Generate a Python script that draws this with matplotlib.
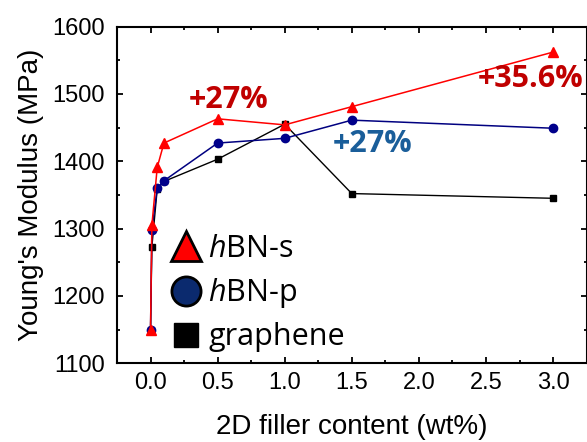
import matplotlib
matplotlib.use("Agg")
import matplotlib.pyplot as plt
from matplotlib.lines import Line2D
from matplotlib.ticker import MultipleLocator

# filler content (wt%)
content = [0.0, 0.01, 0.05, 0.1, 0.5, 1.0, 1.5, 3.0]

# Young's modulus (MPa)
hbn_s = [1150, 1305, 1391, 1427, 1463, 1454, 1481, 1562]
hbn_p = [1150, 1298, 1360, 1371, 1427, 1434, 1461, 1449]
graphene = [1150, 1273, 1359, 1370, 1403, 1455, 1352, 1345]

labels = ["$\\it{h}$BN-s", "$\\it{h}$BN-p", "graphene"]

plt.rcParams["mathtext.fontset"] = "custom"
plt.rcParams["mathtext.it"] = "Open Sans:italic"
plt.rcParams["mathtext.rm"] = "Open Sans"

fig = plt.figure(figsize=(5.87, 4.42), dpi=100)
ax = fig.add_axes([0.1993, 0.178, 0.800, 0.762])

ax.plot(content, graphene, color="black", lw=1.0, marker="s", ms=5)
ax.plot(content, hbn_p, color="#000080", lw=1.1, marker="o", ms=6,
        mfc="#00008b", mec="#00008b")
ax.plot(content, hbn_s, color="#ff0000", lw=1.1, marker="^", ms=7)

ax.set_xlim(-0.25, 3.25)
ax.set_ylim(1100, 1600)
ax.xaxis.set_major_locator(MultipleLocator(0.5))
ax.xaxis.set_minor_locator(MultipleLocator(0.25))
ax.yaxis.set_major_locator(MultipleLocator(100))
ax.yaxis.set_minor_locator(MultipleLocator(50))

for side in ax.spines.values():
    side.set_linewidth(1.5)
ax.tick_params(which="both", direction="in", top=True, right=True, width=1.3)
ax.tick_params(which="major", length=4.5)
ax.tick_params(which="minor", length=2.5)
ax.tick_params(axis="x", labelsize=17, pad=6)
ax.tick_params(axis="y", labelsize=17, pad=8.5)
for lab in ax.get_xticklabels() + ax.get_yticklabels():
    lab.set_fontfamily("Liberation Sans")

ax.set_xticklabels([f"{v:.1f}" for v in ax.get_xticks()])

ax.set_xlabel("2D filler content (wt%)", fontsize=20, family="Liberation Sans",
              labelpad=14.5)
ax.set_ylabel("Young's Modulus (MPa)", fontsize=20, family="Liberation Sans",
              labelpad=6)

ann = dict(fontsize=22, fontweight="bold", family="Open Sans",
           ha="center", va="baseline")
ax.text(0.58, 1479, "+27%", color="#c00000", **ann)
ax.text(2.835, 1510, "+35.6%", color="#c00000", **ann)
ax.text(1.652, 1413, "+27%", color="#1a5e9a", **ann)

handles = [
    Line2D([], [], ls="none", marker="^", ms=21, mfc="#ff0000", mec="black", mew=2),
    Line2D([], [], ls="none", marker="o", ms=21, mfc="#0b2a6e", mec="black", mew=2),
    Line2D([], [], ls="none", marker="s", ms=17, mfc="black", mec="black", mew=1),
]
ax.legend(handles, labels, loc="lower left", bbox_to_anchor=(0.081, -0.013),
          frameon=False, borderpad=0, handlelength=1.0, handletextpad=0.25,
          labelspacing=0.4, prop={"family": "Open Sans", "size": 22})

fig.savefig("out.png", dpi=100)
